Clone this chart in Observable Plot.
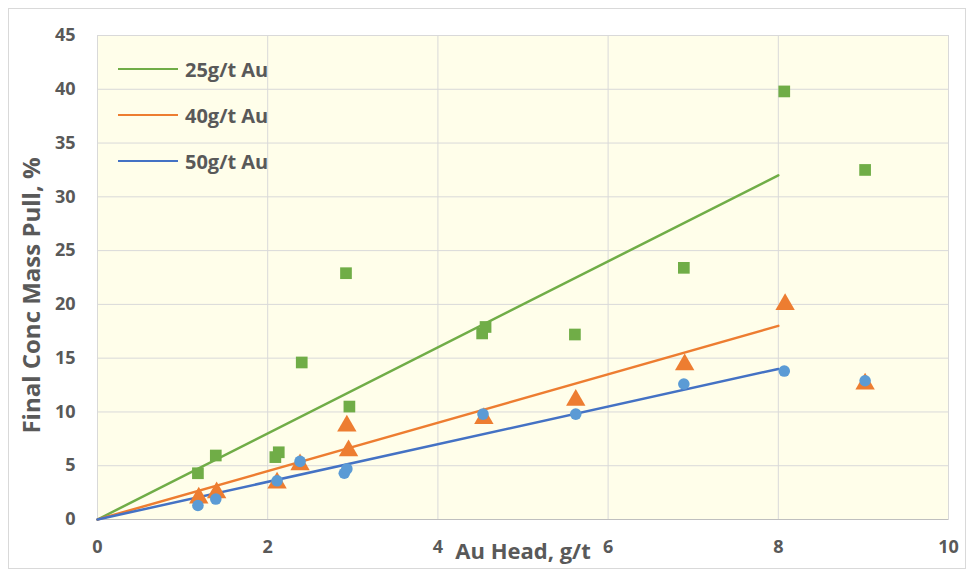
<!DOCTYPE html>
<html>
<head>
<meta charset="utf-8">
<script src="https://cdn.jsdelivr.net/npm/d3@7"></script>
<script src="https://cdn.jsdelivr.net/npm/@observablehq/plot@0.6"></script>
<style>
  html, body { margin: 0; padding: 0; background: #fff; }
  #wrap { position: relative; width: 971px; height: 574px; font-family: "Open Sans", Lato, sans-serif; }
  #border { position: absolute; left: 8px; top: 8px; width: 956px; height: 559px; border: 1px solid #D9D9D9; pointer-events: none; }
  #legend { position: absolute; left: 118px; top: 46px; }
  .item { display: flex; align-items: center; height: 46px; font-weight: bold; font-size: 20px; color: #595959; }
  .item .sw { width: 60px; height: 0; border-top: 2.5px solid; margin-right: 7px; }
</style>
</head>
<body>
<div id="wrap"><div id="border"></div><div id="legend"></div></div>
<script>
const seriesNames = ["25g/t Au", "40g/t Au", "50g/t Au"];
const lineColors = ["#70AD47", "#ED7D31", "#4472C4"];

// Measured points: Au head (g/t) vs final conc mass pull (%)
const g25X = [1.18, 1.39, 2.09, 2.13, 2.40, 2.92, 2.96, 4.52, 4.56, 5.61, 6.89, 8.07, 9.02];
const g25Y = [4.3, 5.95, 5.8, 6.25, 14.6, 22.9, 10.5, 17.3, 17.9, 17.2, 23.4, 39.8, 32.5];

const g40X = [1.19, 1.40, 2.11, 2.38, 2.93, 2.95, 4.54, 5.62, 6.90, 8.08, 9.02];
const g40Y = [2.0, 2.5, 3.4, 5.1, 8.7, 6.4, 9.4, 11.1, 14.4, 20.0, 12.6];

const g50X = [1.18, 1.39, 2.11, 2.38, 2.90, 2.93, 4.53, 5.62, 6.89, 8.07, 9.02];
const g50Y = [1.3, 1.9, 3.6, 5.4, 4.3, 4.7, 9.8, 9.8, 12.6, 13.8, 12.9];

// Trend lines (from origin to 8 g/t)
const trendX = [0, 8];
const trend25 = [0, 32];
const trend40 = [0, 18];
const trend50 = [0, 14];

const xTicks = [0, 2, 4, 6, 8, 10];
const yTicks = [0, 5, 10, 15, 20, 25, 30, 35, 40, 45];

const toRows = (xs, ys) => xs.map((x, i) => ({x, y: ys[i]}));

const chart = Plot.plot({
  width: 971,
  height: 574,
  marginLeft: 97,
  marginRight: 23,
  marginTop: 35,
  marginBottom: 55,
  style: {fontFamily: "'Open Sans', Lato, sans-serif", background: "transparent", overflow: "visible"},
  x: {domain: [0, 10]},
  y: {domain: [0, 45]},
  marks: [
    Plot.frame({fill: "#FFFEEA", stroke: "#D9D9D9"}),
    Plot.gridX(xTicks, {stroke: "#D9D9D9", strokeOpacity: 1, strokeWidth: 1}),
    Plot.gridY(yTicks, {stroke: "#D9D9D9", strokeOpacity: 1, strokeWidth: 1}),
    Plot.ruleY([0], {stroke: "#BFBFBF"}),
    Plot.axisX(xTicks, {tickSize: 0, tickPadding: 21, fontSize: 18, fontWeight: "bold", fill: "#595959", label: null}),
    Plot.axisY(yTicks, {tickSize: 0, tickPadding: 22, fontSize: 18, fontWeight: "bold", fill: "#595959", label: null}),
    Plot.line(toRows(trendX, trend25), {x: "x", y: "y", stroke: lineColors[0], strokeWidth: 2.5}),
    Plot.line(toRows(trendX, trend40), {x: "x", y: "y", stroke: lineColors[1], strokeWidth: 2.5}),
    Plot.line(toRows(trendX, trend50), {x: "x", y: "y", stroke: lineColors[2], strokeWidth: 2.5}),
    Plot.dot(toRows(g25X, g25Y), {x: "x", y: "y", symbol: "square", r: 6.6, fill: "#70AD47", stroke: "none"}),
    Plot.dot(toRows(g40X, g40Y), {x: "x", y: "y", symbol: "triangle", r: 7.2, fill: "#ED7D31", stroke: "none"}),
    Plot.dot(toRows(g50X, g50Y), {x: "x", y: "y", symbol: "circle", r: 5.8, fill: "#5B9BD5", stroke: "none"}),
    Plot.text(["Au Head, g/t"], {frameAnchor: "bottom", dy: 32, textAnchor: "middle", lineAnchor: "middle", fontSize: 22, fontWeight: "bold", fill: "#595959"}),
    Plot.text(["Final Conc Mass Pull, %"], {frameAnchor: "left", dx: -65, dy: 18, rotate: -90, textAnchor: "middle", lineAnchor: "middle", fontSize: 24, fontWeight: "bold", fill: "#595959"})
  ]
});
document.getElementById("wrap").insertBefore(chart, document.getElementById("border"));

const legend = document.getElementById("legend");
seriesNames.forEach((name, i) => {
  const item = document.createElement("div");
  item.className = "item";
  const sw = document.createElement("span");
  sw.className = "sw";
  sw.style.borderTopColor = lineColors[i];
  const label = document.createElement("span");
  label.textContent = name;
  item.appendChild(sw);
  item.appendChild(label);
  legend.appendChild(item);
});
</script>
</body>
</html>
